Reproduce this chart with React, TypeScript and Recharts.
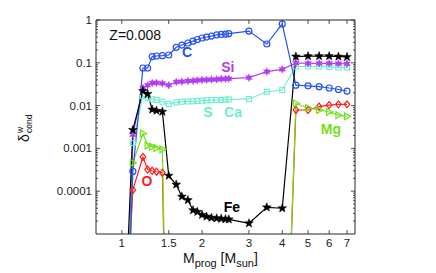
import React from 'react';
import { LineChart, Line, XAxis, YAxis, ReferenceDot } from 'recharts';

// progenitor masses [Msun]
const masses = [1.05, 1.1, 1.2, 1.25, 1.3, 1.35, 1.42, 1.5, 1.6, 1.68, 1.77, 1.85, 1.92, 2.0, 2.08, 2.17, 2.27, 2.36, 2.45, 2.52, 3.0, 3.5, 4.0, 4.5, 5.0, 5.5, 6.0, 6.5, 7.0];

const carbon = [8e-8, 2.9e-4, 0.0756, 0.0756, 0.14, 0.144, 0.147, 0.152, 0.23, 0.26, 0.29, 0.32, 0.35, 0.38, 0.40, 0.42, 0.45, 0.46, 0.47, 0.48, 0.55, 0.275, 0.81, 0.030, 0.029, 0.0277, 0.0258, 0.0238, 0.0219];
const silicon = [1e-7, 0.0021, 0.026, 0.030, 0.0337, 0.034, 0.033, 0.030, 0.0356, 0.0365, 0.0376, 0.038, 0.039, 0.0397, 0.040, 0.0406, 0.041, 0.042, 0.0422, 0.0425, 0.0449, 0.062, 0.0705, 0.099, 0.097, 0.097, 0.097, 0.096, 0.095];
const sulphurCalcium = [1e-7, 0.00134, 0.0168, 0.0151, 0.014, 0.0135, 0.0123, 0.0109, 0.0119, 0.0123, 0.0125, 0.0126, 0.0128, 0.013, 0.0132, 0.0134, 0.0135, 0.0135, 0.0137, 0.0139, 0.0143, 0.0211, 0.0231, 0.082, 0.082, 0.082, 0.08, 0.078, 0.077];
const iron = [2.8e-6, 0.0027, 0.022, 0.0187, 0.0081, 0.0076, 0.0072, 0.00023, 0.000143, 7.5e-5, 6.2e-5, 3.6e-5, 3.3e-5, 2.8e-5, 2.55e-5, 2.4e-5, 2.33e-5, 2.28e-5, 2.22e-5, 2.2e-5, 1.78e-5, 4.2e-5, 4.0e-5, 0.14, 0.143, 0.143, 0.143, 0.14, 0.137];
const oxygen = [5.5e-7, 1.07e-4, 6.3e-4, 3.2e-4, 3.0e-4, 2.85e-4, 2.7e-4, 1e-11, null, null, null, null, null, null, null, null, null, null, null, null, null, null, 1e-11, 0.0079, 0.0079, 0.0095, 0.0103, 0.0107, 0.0107];
const magnesium = [3.7e-8, 4.6e-4, 0.00223, 0.00117, 0.0011, 0.00102, 0.00095, 1e-11, null, null, null, null, null, null, null, null, null, null, null, null, null, null, 1e-11, 0.0112, 0.0088, 0.0079, 0.0071, 0.006, 0.0056];

const xTicks = [1, 1.5, 2, 3, 4, 5, 6, 7];
const yMajorTicks = [0.0001, 0.001, 0.01, 0.1, 1];
const yMinorTicks: number[] = [];
[1e-5, 1e-4, 1e-3, 1e-2, 1e-1].forEach((d) => {
  [2, 3, 4, 5, 6, 7, 8, 9].forEach((k) => yMinorTicks.push(+(k * d).toPrecision(3)));
});
const yAllTicks = [...yMajorTicks, ...yMinorTicks].sort((a, b) => a - b);

const xDomain = [0.8, 7.5];
const yDomain = [1e-5, 1];

const rows = masses.map((m, i) => ({
  m,
  C: carbon[i],
  Si: silicon[i],
  S: sulphurCalcium[i],
  Fe: iron[i],
  O: oxygen[i],
  Mg: magnesium[i],
}));

const FONT = '"Liberation Sans", Arial, Helvetica, sans-serif';
const AXIS = '#262626';

const isMajor = (v: number) => yMajorTicks.some((t) => Math.abs(Math.log10(t) - Math.log10(v)) < 1e-6);

const YLeftTick = (props: any) => {
  const { x, y, payload } = props;
  const v = payload.value;
  const maj = isMajor(v);
  return (
    <g>
      <line x1={x} x2={x + (maj ? 4 : 2)} y1={y} y2={y} stroke={AXIS} strokeWidth={0.8} />
      {maj && (
        <text x={x - 4} y={y} dy={4} textAnchor="end" fontSize={11.5} fontFamily={FONT} fill="#222">
          {String(v)}
        </text>
      )}
    </g>
  );
};

const YRightTick = (props: any) => {
  const { x, y, payload } = props;
  const maj = isMajor(payload.value);
  return <line x1={x} x2={x - (maj ? 4 : 2)} y1={y} y2={y} stroke={AXIS} strokeWidth={0.8} />;
};

const XBottomTick = (props: any) => {
  const { x, y, payload } = props;
  return (
    <g>
      <line x1={x} x2={x} y1={y} y2={y - 4} stroke={AXIS} strokeWidth={0.8} />
      <text x={x} y={y + 13} textAnchor="middle" fontSize={11.5} fontFamily={FONT} fill="#222">
        {String(payload.value)}
      </text>
    </g>
  );
};

const XTopTick = (props: any) => {
  const { x, y } = props;
  return <line x1={x} x2={x} y1={y} y2={y + 4} stroke={AXIS} strokeWidth={0.8} />;
};

const starPath = (cx: number, cy: number, n: number, R: number, r: number) => {
  const pts: string[] = [];
  for (let i = 0; i < 2 * n; i++) {
    const a = -Math.PI / 2 + (i * Math.PI) / n;
    const rad = i % 2 === 0 ? R : r;
    pts.push(`${(cx + rad * Math.cos(a)).toFixed(2)},${(cy + rad * Math.sin(a)).toFixed(2)}`);
  }
  return `M${pts.join('L')}Z`;
};

const makeDot = (shape: string, color: string) => (props: any) => {
  const { cx, cy, index } = props;
  const key = `${shape}-${index}`;
  if (cx == null || cy == null || !isFinite(cx) || !isFinite(cy)) return <g key={key} />;
  switch (shape) {
    case 'circle':
      return <circle key={key} cx={cx} cy={cy} r={3} fill="none" stroke={color} strokeWidth={1.2} />;
    case 'square':
      return <rect key={key} x={cx - 2.5} y={cy - 2.5} width={5} height={5} fill="none" stroke={color} strokeWidth={1.1} />;
    case 'diamond':
      return <path key={key} d={`M${cx},${cy - 3.5}L${cx + 2.8},${cy}L${cx},${cy + 3.5}L${cx - 2.8},${cy}Z`} fill="none" stroke={color} strokeWidth={1.2} />;
    case 'triangle':
      return <path key={key} d={`M${cx + 3.6},${cy}L${cx - 2.5},${cy - 3.4}L${cx - 2.5},${cy + 3.4}Z`} fill="none" stroke={color} strokeWidth={1.2} />;
    case 'hexagram':
      return <path key={key} d={starPath(cx, cy, 6, 3.8, 1.9)} fill={color} stroke={color} strokeWidth={0.5} />;
    case 'pentagram':
    default:
      return <path key={key} d={starPath(cx, cy, 5, 4.6, 1.9)} fill={color} stroke={color} strokeWidth={0.5} />;
  }
};

const C_COL = '#2453f0';
const SI_COL = '#b43cf0';
const S_COL = '#6eecd2';
const FE_COL = '#000000';
const O_COL = '#ff1e1e';
const MG_COL = '#74e01a';

const tag = (value: string, fill: string, size = 14, weight: any = 'bold', position: any = 'center') => ({
  value,
  position,
  offset: 0,
  fill,
  fontSize: size,
  fontWeight: weight,
  fontFamily: FONT,
});

export default function App() {
  return (
    <div style={{ position: 'absolute', left: 0, top: 0, width: 436, height: 273, background: '#fff' }}>
      <LineChart width={436} height={273} data={rows} margin={{ top: 19, right: 80, bottom: 0, left: 0 }}>
        <XAxis
          dataKey="m"
          type="number"
          scale="log"
          domain={xDomain}
          allowDataOverflow
          ticks={xTicks}
          interval={0}
          height={39}
          tickSize={0}
          tickMargin={0}
          tick={<XBottomTick />}
          axisLine={{ stroke: AXIS, strokeWidth: 1 }}
        />
        <XAxis
          xAxisId="top"
          orientation="top"
          dataKey="m"
          type="number"
          scale="log"
          domain={xDomain}
          allowDataOverflow
          ticks={xTicks}
          interval={0}
          height={1}
          tickSize={0}
          tickMargin={0}
          tick={<XTopTick />}
          axisLine={{ stroke: AXIS, strokeWidth: 1 }}
        />
        <YAxis
          type="number"
          scale="log"
          domain={yDomain}
          allowDataOverflow
          ticks={yAllTicks}
          interval={0}
          width={96}
          tickSize={0}
          tickMargin={0}
          tick={<YLeftTick />}
          axisLine={{ stroke: AXIS, strokeWidth: 1 }}
        />
        <YAxis
          yAxisId="right"
          orientation="right"
          type="number"
          scale="log"
          domain={yDomain}
          allowDataOverflow
          ticks={yAllTicks}
          interval={0}
          width={1}
          tickSize={0}
          tickMargin={0}
          tick={<YRightTick />}
          axisLine={{ stroke: AXIS, strokeWidth: 1 }}
        />
        <Line dataKey="S" stroke={S_COL} strokeWidth={1.2} dot={makeDot('square', S_COL)} isAnimationActive={false} />
        <Line dataKey="Si" stroke={SI_COL} strokeWidth={1.2} dot={makeDot('hexagram', SI_COL)} isAnimationActive={false} />
        <Line dataKey="O" stroke={O_COL} strokeWidth={1.2} dot={makeDot('diamond', O_COL)} isAnimationActive={false} />
        <Line dataKey="Mg" stroke={MG_COL} strokeWidth={1.2} dot={makeDot('triangle', MG_COL)} isAnimationActive={false} />
        <Line dataKey="C" stroke={C_COL} strokeWidth={1.2} dot={makeDot('circle', C_COL)} isAnimationActive={false} />
        <Line dataKey="Fe" stroke={FE_COL} strokeWidth={1.2} dot={makeDot('pentagram', FE_COL)} isAnimationActive={false} />
        <ReferenceDot x={0.898} y={0.447} r={0} ifOverflow="visible" label={tag('Z=0.008', '#111', 14, 'normal', 'right')} />
        <ReferenceDot x={1.756} y={0.179} r={0} ifOverflow="visible" label={tag('C', C_COL)} />
        <ReferenceDot x={2.5} y={0.0798} r={0} ifOverflow="visible" label={tag('Si', SI_COL)} />
        <ReferenceDot x={2.106} y={0.00709} r={0} ifOverflow="visible" label={tag('S', S_COL)} />
        <ReferenceDot x={2.613} y={0.00709} r={0} ifOverflow="visible" label={tag('Ca', S_COL)} />
        <ReferenceDot x={6.09} y={0.00284} r={0} ifOverflow="visible" label={tag('Mg', MG_COL)} />
        <ReferenceDot x={1.243} y={0.000173} r={0} ifOverflow="visible" label={tag('O', O_COL)} />
        <ReferenceDot x={2.59} y={0.0000427} r={0} ifOverflow="visible" label={tag('Fe', FE_COL)} />
      </LineChart>
      <svg width={436} height={273} style={{ position: 'absolute', left: 0, top: 0, pointerEvents: 'none' }}>
        <g transform="translate(29,142) rotate(-90)" fontFamily={FONT} fill="#111">
          <text x={0} y={0} fontSize={14}>δ</text>
          <text x={9} y={-6} fontSize={8.5}>w</text>
          <text x={9} y={3} fontSize={8.5}>cond</text>
        </g>
        <text x={183} y={263} fontSize={14} fontFamily={FONT} fill="#111">
          M<tspan fontSize={11} dy={4}>prog</tspan>
          <tspan dy={-4}> [M</tspan>
          <tspan fontSize={11} dy={4}>sun</tspan>
          <tspan dy={-4}>]</tspan>
        </text>
      </svg>
    </div>
  );
}
